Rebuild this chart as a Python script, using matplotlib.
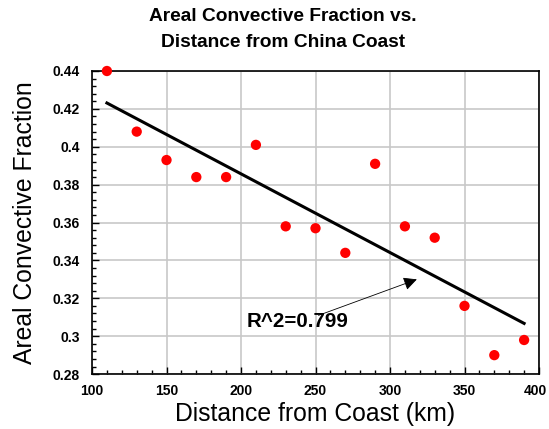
import matplotlib
matplotlib.use('Agg')
import matplotlib.pyplot as plt
import matplotlib.transforms as mtransforms
import numpy as np
from matplotlib.ticker import MultipleLocator

plt.rcParams['font.family'] = ['Liberation Sans', 'DejaVu Sans']

# Distance from coast (km) and areal convective fraction
distance = [110, 130, 150, 170, 190, 210, 230, 250, 270, 290, 310, 330, 350, 370, 390]
fraction = [0.440, 0.408, 0.393, 0.384, 0.384, 0.401, 0.358, 0.357, 0.344, 0.391,
            0.358, 0.352, 0.316, 0.290, 0.298]
x_ticks = [100, 150, 200, 250, 300, 350, 400]
y_ticks = [0.28, 0.30, 0.32, 0.34, 0.36, 0.38, 0.40, 0.42, 0.44]
y_tick_labels = ['0.28', '0.3', '0.32', '0.34', '0.36', '0.38', '0.4', '0.42', '0.44']
r2_label = 'R^2=0.799'

x = np.array(distance)
y = np.array(fraction)
slope, intercept = np.polyfit(x, y, 1)

fig = plt.figure(figsize=(5.49, 4.29), dpi=100)
ax = fig.add_axes([0.1676, 0.128, 0.8142, 0.7065])

ax.grid(True, which='major', color='#c8c8c8', linewidth=1.2, zorder=0)
ax.plot([x.min(), x.max()], [slope * x.min() + intercept, slope * x.max() + intercept],
        color='black', linewidth=2.2, zorder=2)
ax.scatter(x, y, s=55, color='red', edgecolors='none', zorder=3, clip_on=False)

ax.set_xlim(100, 400)
ax.set_ylim(0.28, 0.44)
ax.set_xticks(x_ticks)
ax.set_xticklabels([str(t) for t in x_ticks])
ax.set_yticks(y_ticks)
ax.set_yticklabels(y_tick_labels)
ax.xaxis.set_minor_locator(MultipleLocator(10))
ax.yaxis.set_minor_locator(MultipleLocator(0.004))
ax.tick_params(which='both', direction='in', labelsize=10, width=1)
ax.tick_params(which='major', length=5)
ax.tick_params(axis='y', which='major', pad=9)
ax.tick_params(axis='x', which='major', pad=7)
ax.tick_params(which='minor', length=3)
for lbl in ax.get_xticklabels() + ax.get_yticklabels():
    lbl.set_fontweight('bold')
# nudge the last x label so it stays inside the figure
last = ax.get_xticklabels()[-1]
last.set_transform(last.get_transform() +
                   mtransforms.ScaledTranslation(-4 / 100, 0, fig.dpi_scale_trans))
for s in ax.spines.values():
    s.set_linewidth(1.2)

ax.set_xlabel('Distance from Coast (km)', fontsize=17.8, labelpad=3)
ax.set_ylabel('Areal Convective Fraction', fontsize=17.8, labelpad=11)
fig.suptitle('Areal Convective Fraction vs.\nDistance from China Coast',
             fontsize=13.8, fontweight='bold', x=0.515, y=0.981, linespacing=1.7)

ax.annotate('', xy=(318, 0.330), xytext=(252, 0.311),
            arrowprops=dict(arrowstyle='-|>', color='black', lw=0.6,
                            mutation_scale=20, shrinkA=0, shrinkB=0))
ax.text(204, 0.308, r2_label, fontsize=14.8, fontweight='bold', va='center', ha='left')

fig.savefig('out.png', dpi=100)
